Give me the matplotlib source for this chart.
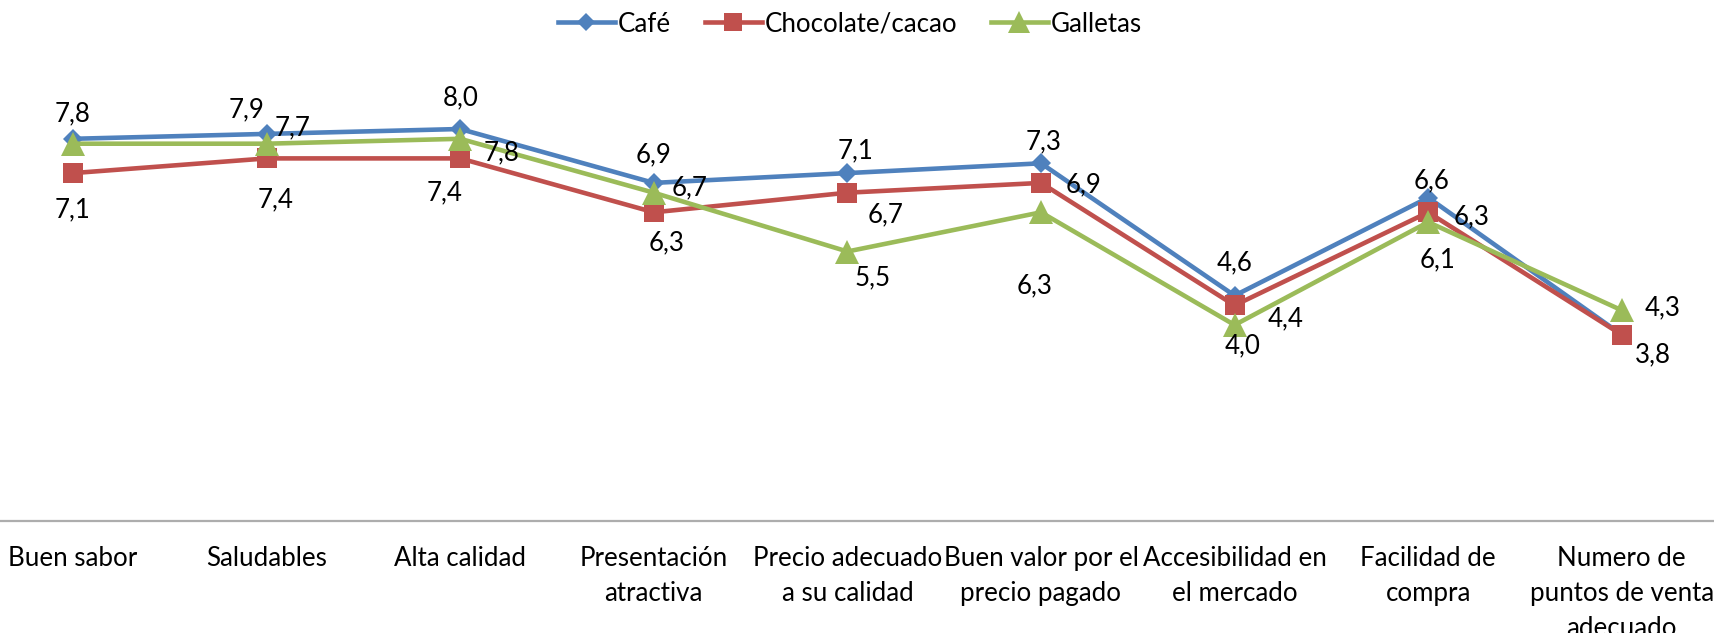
import matplotlib
matplotlib.use("Agg")
import matplotlib.pyplot as plt
from matplotlib.lines import Line2D

# --- data -------------------------------------------------------------
categories = [
    "Buen sabor",
    "Saludables",
    "Alta calidad",
    "Presentación\natractiva",
    "Precio adecuado\na su calidad",
    "Buen valor por el\nprecio pagado",
    "Accesibilidad en\nel mercado",
    "Facilidad de\ncompra",
    "Numero de\npuntos de venta\nadecuado",
]
series_names = ["Café", "Chocolate/cacao", "Galletas"]
cafe = [7.8, 7.9, 8.0, 6.9, 7.1, 7.3, 4.6, 6.6, 3.8]
chocolate = [7.1, 7.4, 7.4, 6.3, 6.7, 6.9, 4.4, 6.3, 3.8]
galletas = [7.7, 7.7, 7.8, 6.7, 5.5, 6.3, 4.0, 6.1, 4.3]

# --- styling ------------------------------------------------------------
plt.rcParams["font.family"] = ["Lato", "DejaVu Sans"]
FS = 18.6
colors = ["#4F81BD", "#C0504D", "#9BBB59"]
markers = ["D", "s", "^"]
msizes = [10.5, 15, 17]
LW = 3.3

# label offsets in pixels (dx, dy) per point; None = label not shown
label_offsets = {
    0: [(0, 25), (-20, 24), (0, 31), (0, 28), (8, 22), (3, 21), (0, 33), (3, 17), None],
    1: [(0, -37), (9, -41), (-16, -34), (13, -31), (38, -22), (43, -2), (51, -13), (43, -5), (31, -20)],
    2: [None, (26, 16), (41, -14), (36, 5), (25, -26), (-6, -74), (8, -21), (9, -38), (41, 2)],
}

W, H = 1715, 633
fig = plt.figure(figsize=(W / 100, H / 100), dpi=100)

# axes geometry in pixels: category 0 at x=73, spacing 193.6; value 0 at y=521, 49 px per unit
x0_px, dx_px = 73, 193.6
y0_px, dy_px = 521, 49.0
ymax = 10
ax = fig.add_axes([0, (H - y0_px) / H, 1, ymax * dy_px / H])
ax.set_xlim(-x0_px / dx_px, (W - x0_px) / dx_px)
ax.set_ylim(0, ymax)

xs = list(range(len(categories)))
all_series = [cafe, chocolate, galletas]
for i, vals in enumerate(all_series):
    ax.plot(xs, vals, color=colors[i], lw=LW, marker=markers[i], ms=msizes[i],
            markerfacecolor=colors[i], markeredgecolor=colors[i], markeredgewidth=0,
            zorder=3 + i, solid_joinstyle="miter")

for i, vals in enumerate(all_series):
    for j, v in enumerate(vals):
        off = label_offsets[i][j]
        if off is None:
            continue
        ax.annotate(f"{v:.1f}".replace(".", ","), (j, v), xytext=off,
                    textcoords="offset pixels", ha="center", va="center",
                    fontsize=FS, color="#000000", zorder=10)

for side in ["top", "left", "right"]:
    ax.spines[side].set_visible(False)
ax.spines["bottom"].set_color("#ADADAD")
ax.spines["bottom"].set_linewidth(1.6)
ax.set_yticks([])
ax.set_xticks(xs)
ax.set_xticklabels(categories, fontsize=FS, linespacing=1.5, color="#000000")
ax.tick_params(axis="x", length=0, pad=18)

handles = [Line2D([], [], color=colors[i], lw=LW, marker=markers[i], ms=msizes[i] * 0.9,
                  markeredgewidth=0) for i in range(3)]
fig.legend(handles, series_names, loc="center", bbox_to_anchor=(850 / W, 1 - 24 / H),
           ncol=3, frameon=False, fontsize=FS, handlelength=2.2, handletextpad=0.12,
           columnspacing=1.3, borderpad=0, borderaxespad=0)

fig.savefig("out.png", dpi=100)
